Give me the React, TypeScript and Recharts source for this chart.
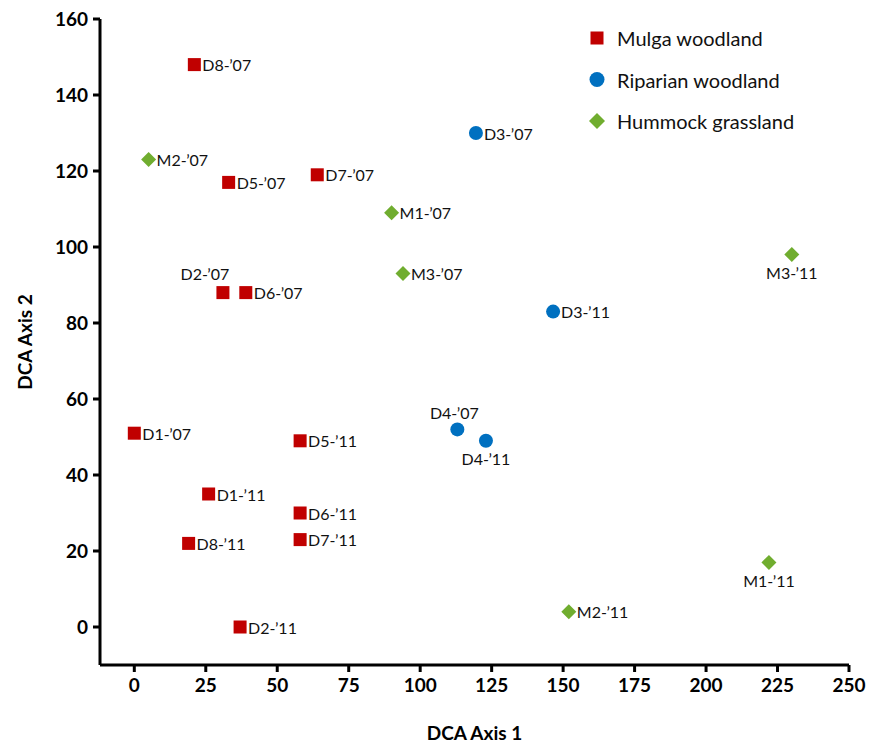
import React from "react";
import { ScatterChart, Scatter, XAxis, YAxis, Label } from "recharts";

const mulgaNames = ["D8-’07", "D5-’07", "D7-’07", "D2-’07", "D6-’07", "D1-’07", "D5-’11", "D1-’11", "D6-’11", "D7-’11", "D8-’11", "D2-’11"];
const mulgaX = [21, 33, 64, 31, 39, 0, 58, 26, 58, 58, 19, 37];
const mulgaY = [148, 117, 119, 88, 88, 51, 49, 35, 30, 23, 22, 0];

const riparianNames = ["D3-’07", "D3-’11", "D4-’07", "D4-’11"];
const riparianX = [119.5, 146.5, 113, 123];
const riparianY = [130, 83, 52, 49];

const hummockNames = ["M2-’07", "M1-’07", "M3-’07", "M3-’11", "M1-’11", "M2-’11"];
const hummockX = [5, 90, 94, 230, 222, 152];
const hummockY = [123, 109, 93, 98, 17, 4];

const xTicks = [0, 25, 50, 75, 100, 125, 150, 175, 200, 225, 250];
const yTicks = [0, 20, 40, 60, 80, 100, 120, 140, 160];

const seriesNames = ["Mulga woodland", "Riparian woodland", "Hummock grassland"];
const COLORS = { mulga: "#C00000", riparian: "#0070C0", hummock: "#70AD2F" };

// label placement relative to marker
const labelPlacement: Record<string, string> = {
  "D2-’07": "aboveLeft",
  "D4-’07": "above",
  "D4-’11": "below",
  "M3-’11": "below",
  "M1-’11": "below",
};

const build = (names: string[], xs: number[], ys: number[]) =>
  names.map((n, i) => ({ name: n, x: xs[i], y: ys[i] }));

const mulgaData = build(mulgaNames, mulgaX, mulgaY);
const riparianData = build(riparianNames, riparianX, riparianY);
const hummockData = build(hummockNames, hummockX, hummockY);

const FONT = "Lato, 'Open Sans', sans-serif";

const PointLabel = ({ cx, cy, name }: { cx: number; cy: number; name: string }) => {
  const p = labelPlacement[name] || "right";
  let x = cx + 8;
  let y = cy;
  let anchor: "start" | "middle" | "end" = "start";
  if (p === "above") {
    x = cx - 3;
    y = cy - 17;
    anchor = "middle";
  } else if (p === "aboveLeft") {
    x = cx - 18;
    y = cy - 19;
    anchor = "middle";
  } else if (p === "below") {
    y = cy + 18;
    x = cx;
    anchor = "middle";
  }
  return (
    <text x={x} y={y} textAnchor={anchor} dominantBaseline="central" fontFamily={FONT} fontSize={16} fill="#111">
      {name}
    </text>
  );
};

const makeShape = (kind: string, color: string) => (props: any) => {
  const { cx, cy, payload } = props;
  let mark;
  if (kind === "square") {
    mark = <rect x={cx - 6.5} y={cy - 6.5} width={13} height={13} fill={color} />;
  } else if (kind === "circle") {
    mark = <circle cx={cx} cy={cy} r={7} fill={color} />;
  } else {
    const r = 7.5;
    mark = <polygon points={`${cx},${cy - r} ${cx + r},${cy} ${cx},${cy + r} ${cx - r},${cy}`} fill={color} />;
  }
  return (
    <g>
      {mark}
      <PointLabel cx={cx} cy={cy} name={payload.name} />
    </g>
  );
};

const LegendMark = ({ kind, color, cx, cy }: any) => {
  if (kind === "square") return <rect x={cx - 6.5} y={cy - 6.5} width={13} height={13} fill={color} />;
  if (kind === "circle") return <circle cx={cx} cy={cy} r={7.5} fill={color} />;
  const r = 8;
  return <polygon points={`${cx},${cy - r} ${cx + r},${cy} ${cx},${cy + r} ${cx - r},${cy}`} fill={color} />;
};

const legendKinds = [
  { kind: "square", color: COLORS.mulga },
  { kind: "circle", color: COLORS.riparian },
  { kind: "diamond", color: COLORS.hummock },
];

const CustomLegend = () => (
  <svg width={260} height={120} style={{ display: "block" }}>
    {seriesNames.map((n, i) => (
      <g key={n}>
        <LegendMark kind={legendKinds[i].kind} color={legendKinds[i].color} cx={14} cy={15 + i * 41.5} />
        <text x={34} y={15 + i * 41.5} dominantBaseline="central" fontFamily={FONT} fontSize={20} fill="#111">
          {n}
        </text>
      </g>
    ))}
  </svg>
);

export default function App() {
  return (
    <div style={{ position: "absolute", left: 0, top: 0, width: 870, height: 744, background: "#fff" }}>
      <ScatterChart width={870} height={744} margin={{ top: 19, right: 21, bottom: 0, left: 0 }}>
        <XAxis
          type="number"
          dataKey="x"
          domain={[-12, 250]}
          ticks={xTicks}
          allowDataOverflow
          height={79}
          axisLine={{ stroke: "#000", strokeWidth: 3 }}
          tickLine={{ stroke: "#000", strokeWidth: 3 }}
          tickSize={7}
          tickMargin={7}
          tick={{ fontSize: 19, fontWeight: 700, fill: "#000", fontFamily: FONT }}
        >
          <Label
            content={({ viewBox }: any) => (
              <text
                x={viewBox.x + viewBox.width / 2}
                y={732}
                textAnchor="middle"
                dominantBaseline="central"
                fontFamily={FONT}
                fontSize={19}
                fontWeight={700}
                fill="#000"
              >
                DCA Axis 1
              </text>
            )}
          />
        </XAxis>
        <YAxis
          type="number"
          dataKey="y"
          domain={[-10, 160]}
          ticks={yTicks}
          allowDataOverflow
          width={100}
          axisLine={{ stroke: "#000", strokeWidth: 3 }}
          tickLine={{ stroke: "#000", strokeWidth: 3 }}
          tickSize={7}
          tickMargin={5}
          tick={{ fontSize: 19, fontWeight: 700, fill: "#000", fontFamily: FONT }}
        >
          <Label
            content={({ viewBox }: any) => (
              <text
                x={24}
                y={viewBox.y + viewBox.height / 2}
                textAnchor="middle"
                dominantBaseline="central"
                transform={`rotate(-90 24 ${viewBox.y + viewBox.height / 2})`}
                fontFamily={FONT}
                fontSize={19}
                fontWeight={700}
                fill="#000"
              >
                DCA Axis 2
              </text>
            )}
          />
        </YAxis>
        <Scatter name={seriesNames[0]} data={mulgaData} fill={COLORS.mulga} shape={makeShape("square", COLORS.mulga)} isAnimationActive={false} />
        <Scatter name={seriesNames[1]} data={riparianData} fill={COLORS.riparian} shape={makeShape("circle", COLORS.riparian)} isAnimationActive={false} />
        <Scatter name={seriesNames[2]} data={hummockData} fill={COLORS.hummock} shape={makeShape("diamond", COLORS.hummock)} isAnimationActive={false} />
      </ScatterChart>
      <div style={{ position: "absolute", left: 583, top: 23 }}>
        <CustomLegend />
      </div>
    </div>
  );
}
